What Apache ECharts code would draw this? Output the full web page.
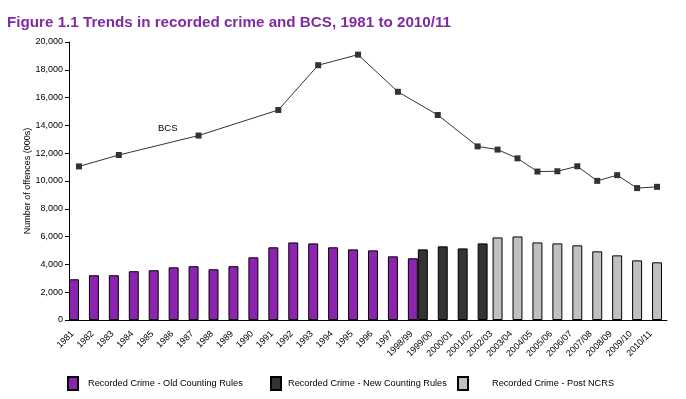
<!DOCTYPE html>
<html>
<head>
<meta charset="utf-8">
<title>Figure 1.1</title>
<script src="https://cdn.jsdelivr.net/npm/echarts@6/dist/echarts.min.js"></script>
<style>
  html, body { margin: 0; padding: 0; background: #fff; }
  #chart { width: 686px; height: 399px; }
</style>
</head>
<body>
<div id="chart"></div>
<script>
// categories on the x axis
var years = ['1981', '1982', '1983', '1984', '1985', '1986', '1987', '1988', '1989', '1990',
    '1991', '1992', '1993', '1994', '1995', '1996', '1997', '1998/99', '1999/00', '2000/01',
    '2001/02', '2002/03', '2003/04', '2004/05', '2005/06', '2006/07', '2007/08', '2008/09',
    '2009/10', '2010/11'];

// recorded crime (000s), old counting rules
var oldRules = [2930, 3220, 3220, 3510, 3580, 3790, 3870, 3650, 3870, 4510,
    5230, 5580, 5510, 5230, 5080, 5010, 4580, 4440, null, null,
    null, null, null, null, null, null, null, null, null, null];

// recorded crime (000s), new counting rules
var newRules = [null, null, null, null, null, null, null, null, null, null,
    null, null, null, null, null, null, null, 5080, 5300, 5150,
    5510, null, null, null, null, null, null, null, null, null];

// recorded crime (000s), post NCRS
var postNcrs = [null, null, null, null, null, null, null, null, null, null,
    null, null, null, null, null, null, null, null, null, null,
    null, 5940, 6010, 5580, 5510, 5370, 4940, 4650, 4290, 4150];

// British Crime Survey (000s)
var bcs = [11050, null, 11870, null, null, null, 13270, null, null, null,
    15110, null, 18330, null, 19090, null, 16420, null, 14750, null,
    12490, 12260, 11630, 10680, 10700, 11060, 10010, 10420, 9490, 9580];

var yTicks = [0, 2000, 4000, 6000, 8000, 10000, 12000, 14000, 16000, 18000, 20000];

var purple = '#8d24b0';
var font = '"Liberation Sans", Arial, sans-serif';

var chart = echarts.init(document.getElementById('chart'));

var barBase = {
    type: 'bar',
    barWidth: '50%',
    barGap: '-50%',
    itemStyle: { borderColor: '#000', borderWidth: 1 }
};

// one legend per item, the gaps in the original are uneven
function legendItem(name, left, textGap) {
    return {
        left: left,
        top: 376,
        padding: 0,
        itemWidth: 10,
        itemHeight: 13,
        icon: 'rect',
        data: [name],
        textStyle: { fontSize: 9.2, color: '#000', fontFamily: font, padding: [0, 0, 0, textGap] }
    };
}

var option = {
    animation: false,
    textStyle: { fontFamily: font },
    title: {
        text: 'Figure 1.1 Trends in recorded crime and BCS, 1981 to 2010/11',
        left: 7,
        top: 15,
        padding: 0,
        textStyle: { color: '#7f2aa3', fontSize: 15.2, fontWeight: 'bold', fontFamily: font }
    },
    legend: [
        legendItem('Recorded Crime - Old Counting Rules', 67, 5),
        legendItem('Recorded Crime - New Counting Rules', 270, 2),
        legendItem('Recorded Crime - Post NCRS', 457, 19)
    ],
    grid: { left: 69, right: 19, top: 42, bottom: 79 },
    xAxis: {
        type: 'category',
        data: years,
        axisLine: { lineStyle: { color: '#000', width: 1 } },
        axisTick: { length: 4, lineStyle: { color: '#000' } },
        axisLabel: { rotate: 45, fontSize: 9, color: '#000', margin: 6, interval: 0, padding: [0, 9, 0, 0] }
    },
    yAxis: {
        type: 'value',
        min: yTicks[0],
        max: yTicks[yTicks.length - 1],
        interval: 2000,
        name: 'Number of offences (000s)',
        nameLocation: 'middle',
        nameGap: 37,
        nameMoveOverlap: false,
        nameTextStyle: { fontSize: 9, color: '#000' },
        axisLine: { show: true, lineStyle: { color: '#000', width: 1 } },
        axisTick: { show: true, length: 4, lineStyle: { color: '#000' } },
        splitLine: { show: false },
        axisLabel: {
            fontSize: 9, color: '#000', margin: 6,
            formatter: function(v) { return v.toLocaleString('en-GB'); }
        }
    },
    series: [
        Object.assign({ name: 'Recorded Crime - Old Counting Rules', data: oldRules, color: purple }, barBase),
        Object.assign({ name: 'Recorded Crime - Post NCRS', data: postNcrs, color: '#c0c0c0' }, barBase),
        Object.assign({ name: 'Recorded Crime - New Counting Rules', data: newRules, color: '#333333' }, barBase),
        {
            name: 'BCS',
            type: 'line',
            data: bcs,
            connectNulls: true,
            symbol: 'rect',
            symbolSize: 6,
            color: '#333333',
            lineStyle: { color: '#333333', width: 1 },
            itemStyle: { color: '#333333' }
        }
    ],
    graphic: [{
        type: 'text',
        left: 158,
        top: 123,
        style: { text: 'BCS', fontSize: 9.5, fill: '#000', fontFamily: font }
    }]
};

chart.setOption(option);
</script>
</body>
</html>
